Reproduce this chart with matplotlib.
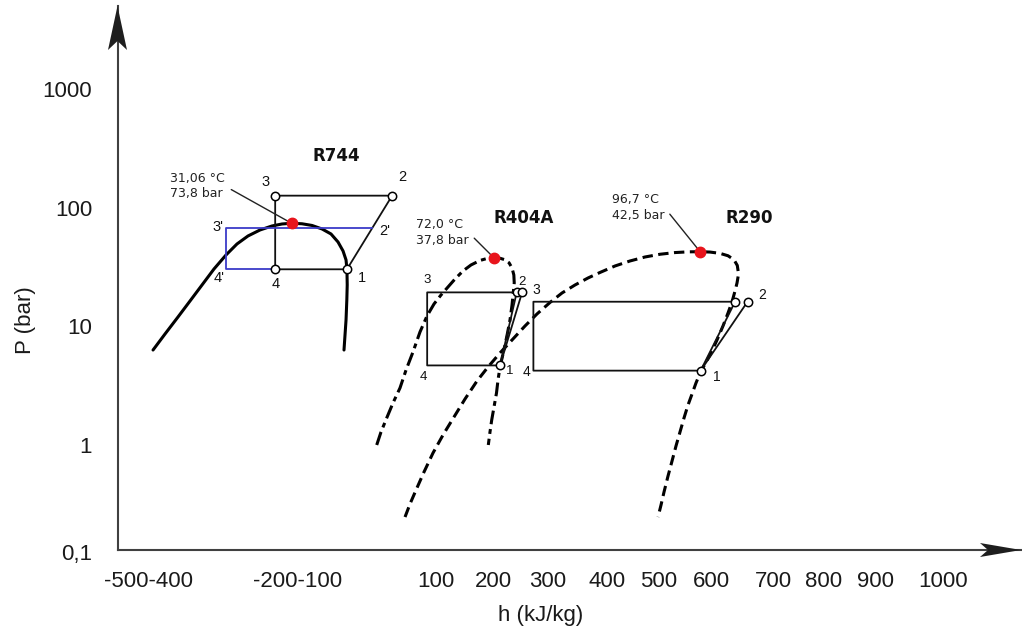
import matplotlib
matplotlib.use("Agg")
import matplotlib.pyplot as plt
from matplotlib.patches import Polygon
from matplotlib.transforms import blended_transform_factory

plt.rcParams['font.family'] = ['Liberation Sans', 'DejaVu Sans']

# ---- saturation domes: enthalpy h (kJ/kg) and pressure P (bar) ----
r744_h = [-398.2, -377.0, -354.0, -332.7, -311.5, -290.3, -269.0, -249.6, -230.1, -208.8, -187.6, -169.9,
          -152.7, -134.5, -116.8, -99.1, -83.2, -70.8, -61.9, -56.6, -55.0, -54.5, -55.2, -56.6, -58.4, -60.2]
r744_p = [6.31, 8.61, 11.98, 16.34, 22.28, 30.39, 39.88, 49.36, 57.65, 64.76, 69.98, 72.74,
          73.8, 73.03, 70.68, 66.03, 59.93, 51.3, 43.1, 36.2, 30.2, 22.3, 16.66, 11.3, 8.45, 6.31]

r404a_h = [-2.3, 5.3, 15.4, 26.5, 38.9, 49.6, 61.9, 74.3, 86.7, 99.1, 111.5, 123.9, 136.3, 150.4, 164.6,
           180.5, 192.9, 205.3, 215.9, 224.8, 231.9, 237.2, 240.4, 241.1, 239.5, 237.2, 233.6, 229.2,
           224.8, 220.4, 215.9, 212.4, 209.7, 205.3, 201.2, 198.2, 195.2]
r404a_p = [1.0, 1.287, 1.689, 2.259, 3.022, 4.283, 6.074, 8.954, 12.21, 15.41, 18.35, 21.44, 25.03, 29.24,
           32.85, 35.84, 37.25, 37.8, 37.4, 36.33, 34.27, 30.98, 27.05, 23.16, 19.45, 15.11, 11.3, 8.78,
           6.96, 5.62, 4.54, 3.53, 2.74, 2.09, 1.62, 1.287, 1.0]

r290_h = [47.8, 56.6, 67.3, 81.4, 97.3, 115.0, 134.5, 154.0, 175.2, 194.7, 215.9, 237.2, 260.2, 281.4,
          304.4, 325.7, 348.7, 371.7, 392.9, 419.5, 446.0, 472.6, 499.1, 525.7, 548.7, 569.9, 587.6,
          605.3, 619.5, 630.1, 635.9, 638.1, 635.4, 631.9, 626.5, 619.5, 610.6, 600.0, 589.4, 578.8,
          570.8, 562.8, 555.8, 548.7, 541.6, 534.5, 527.4, 520.4, 513.3, 506.2, 500.9, 495.6]
r290_p = [0.2473, 0.3184, 0.4177, 0.5922, 0.8561, 1.214, 1.722, 2.441, 3.461, 4.541, 5.959, 7.665, 10.06,
          12.70, 15.87, 19.08, 22.28, 25.52, 28.40, 32.21, 35.49, 38.35, 40.43, 41.78, 42.36, 42.5, 42.19,
          41.14, 39.27, 36.33, 32.53, 27.58, 23.16, 19.84, 16.02, 12.94, 10.06, 7.665, 5.959, 4.813,
          4.121, 3.330, 2.690, 2.173, 1.689, 1.287, 0.9808, 0.7330, 0.5481, 0.4018, 0.3122, 0.2473]

# ---- critical points ----
crit_names = ['R744', 'R404A', 'R290']
crit_h = [-153, 205, 570]
crit_p = [73.8, 37.8, 42.5]
crit_t = ['31,06', '72,0', '96,7']

# ---- refrigeration cycles (state points) ----
r744_cycle_h = {'1': -55, '2': 25, '3': -182, '4': -182}
r744_cycle_p = {'1': 30.2, '2': 126, '3': 126, '4': 30.2}
r744_trans_h = {"4'": -269, "3'": -269, "2'": -10.5}
r744_trans_p = {"4'": 30.2, "3'": 66.9, "2'": 66.9}

r404a_cycle_h = {'1': 216, '2a': 245.5, '2b': 255, '3': 87, '4': 87}
r404a_cycle_p = {'1': 4.68, '2a': 19.3, '2b': 19.3, '3': 19.3, '4': 4.68}

r290_cycle_h = {'1': 571, '2a': 632, '2b': 654, '3': 275, '4': 275}
r290_cycle_p = {'1': 4.23, '2a': 16.1, '2b': 16.1, '3': 16.1, '4': 4.23}

# ---- axis ticks ----
xtick_pos = [-407, -142, 103, 205, 300, 405, 497, 591, 699, 789, 881, 1000]
xtick_labels = ['-500-400', '-200-100', '100', '200', '300', '400', '500', '600', '700', '800', '900', '1000']
ytick_pos = [1, 10, 100, 1000]
ytick_labels = ['1', '10', '100', '1000']

W, H = 1022, 628
fig = plt.figure(figsize=(W / 100, H / 100), dpi=100)
ax = fig.add_axes([118 / W, 78 / H, 904 / W, 544 / H])
ax.set_yscale('log')
ax.set_xlim(-460.2, 1139.8)
ax.set_ylim(10 ** -0.8846, 10 ** 3.698)

for s in ['top', 'right']:
    ax.spines[s].set_visible(False)
for s in ['left', 'bottom']:
    ax.spines[s].set_color('#404040')
    ax.spines[s].set_linewidth(1.5)

ax.set_xticks(xtick_pos)
ax.set_xticklabels(xtick_labels)
ax.set_yticks(ytick_pos)
ax.set_yticklabels(ytick_labels)
ax.minorticks_off()
ax.tick_params(axis='x', length=0, pad=15, labelsize=16, labelcolor='#1a1a1a')
ax.tick_params(axis='y', length=0, pad=18.7, labelsize=16, labelcolor='#1a1a1a')

trans = blended_transform_factory(ax.transAxes, ax.transData)
ax.annotate('0,1', xy=(0, 0.1184), xycoords=trans, xytext=(-18.7, 0), textcoords='offset points',
            ha='right', va='center', fontsize=16, color='#1a1a1a', annotation_clip=False)

fig.text(25 / W, 1 - 320 / H, 'P (bar)', rotation=90, ha='center', va='center', fontsize=16, color='#1a1a1a')
fig.text(541 / W, 1 - 615 / H, 'h (kJ/kg)', ha='center', va='center', fontsize=16, color='#1a1a1a')


def px(x, y):
    return (x / W, 1 - y / H)


# axis arrowheads
fig.patches.append(Polygon([px(117.5, 6), px(108, 50), px(117.5, 41), px(127, 50)], closed=True,
                           transform=fig.transFigure, facecolor='#1e1e1e', edgecolor='none', zorder=5))
fig.patches.append(Polygon([px(1021, 550), px(980, 543), px(988, 550), px(980, 557)], closed=True,
                           transform=fig.transFigure, facecolor='#1e1e1e', edgecolor='none', zorder=5))

# saturation domes
ax.plot(r744_h, r744_p, color='black', lw=2.2, solid_capstyle='round', solid_joinstyle='round', zorder=2)
ax.plot(r404a_h, r404a_p, color='black', lw=2.2, dashes=(4.5, 1.6, 1.6, 1.6), zorder=2)
ax.plot(r290_h, r290_p, color='black', lw=2.2, dashes=(3.4, 1.8), zorder=2)

cyc_kw = dict(color='#111111', lw=1.3, zorder=3)
mk_kw = dict(marker='o', ms=6, mfc='white', mec='black', mew=1.1, ls='none', zorder=6)

# R744 transcritical cycle
hc, pc = r744_cycle_h, r744_cycle_p
order = ['1', '2', '3', '4', '1']
ax.plot([hc[k] for k in order], [pc[k] for k in order], **cyc_kw)
ht, pt = r744_trans_h, r744_trans_p
ax.plot([hc['4'], ht["4'"], ht["3'"], ht["2'"]], [pc['4'], pt["4'"], pt["3'"], pt["2'"]],
        color='#3c3cc8', lw=1.3, zorder=3)
ax.plot([hc[k] for k in ['1', '2', '3', '4']], [pc[k] for k in ['1', '2', '3', '4']], **mk_kw)

# R404A cycle
hc, pc = r404a_cycle_h, r404a_cycle_p
ax.plot([hc[k] for k in ['2a', '3', '4', '1', '2a']], [pc[k] for k in ['2a', '3', '4', '1', '2a']], **cyc_kw)
ax.plot([hc['1'], hc['2b']], [pc['1'], pc['2b']], **cyc_kw)
ax.plot([hc[k] for k in ['1', '2a', '2b']], [pc[k] for k in ['1', '2a', '2b']], **mk_kw)

# R290 cycle
hc, pc = r290_cycle_h, r290_cycle_p
ax.plot([hc[k] for k in ['2a', '3', '4', '1', '2a']], [pc[k] for k in ['2a', '3', '4', '1', '2a']], **cyc_kw)
ax.plot([hc['1'], hc['2b']], [pc['1'], pc['2b']], **cyc_kw)
ax.plot([hc[k] for k in ['1', '2a', '2b']], [pc[k] for k in ['1', '2a', '2b']], **mk_kw)


def label(h, p, text, dx, dy, size=10):
    ax.annotate(text, xy=(h, p), xytext=(dx, dy), textcoords='offset points',
                ha='center', va='center', fontsize=size, color='#111111', zorder=7)


# state point labels
label(r744_cycle_h['3'], r744_cycle_p['3'], '3', -7, 9.6, 10.5)
label(r744_cycle_h['2'], r744_cycle_p['2'], '2', 7, 13.5, 10.5)
label(r744_cycle_h['4'], r744_cycle_p['4'], '4', 0.7, -10.6, 10.5)
label(r744_cycle_h['1'], r744_cycle_p['1'], '1', 10.8, -6.5, 10.5)
label(r744_trans_h["3'"], r744_trans_p["3'"], "3'", -5.5, 1.2, 10.5)
label(r744_trans_h["2'"], r744_trans_p["2'"], "2'", 8.8, -1.7, 10.5)
label(r744_trans_h["4'"], r744_trans_p["4'"], "4'", -5.0, -6.0, 10.5)

label(r404a_cycle_h['3'], r404a_cycle_p['3'], '3', 0, 9, 9.5)
label(r404a_cycle_h['4'], r404a_cycle_p['4'], '4', -2.9, -8, 9.5)
label(r404a_cycle_h['2b'], r404a_cycle_p['2b'], '2', -0.4, 7.8, 9.5)
label(r404a_cycle_h['1'], r404a_cycle_p['1'], '1', 6.7, -4.3, 9.5)

label(r290_cycle_h['3'], r290_cycle_p['3'], '3', 2.4, 8.4, 10)
label(r290_cycle_h['4'], r290_cycle_p['4'], '4', -4.8, -0.7, 10)
label(r290_cycle_h['2b'], r290_cycle_p['2b'], '2', 10.4, 4.8, 10)
label(r290_cycle_h['1'], r290_cycle_p['1'], '1', 11.5, -4.3, 10)

# refrigerant names
name_pos_h = [-73, 258, 657]
name_pos_p = [272, 81.7, 81.7]
for n, h, p in zip(crit_names, name_pos_h, name_pos_p):
    ax.text(h, p, n, ha='center', va='center', fontsize=12, fontweight='bold',
            family='DejaVu Sans', color='#111111', zorder=7)

# critical points with annotations
note_h = [-368, 67, 414]
note_p = [152, 61.7, 100.2]
for h, p, t, nh, npp in zip(crit_h, crit_p, crit_t, note_h, note_p):
    txt = f"{t} °C\n{p:.1f} bar".replace('.', ',')
    ax.annotate(txt, xy=(h, p), xytext=(nh, npp), ha='left', va='center', fontsize=9,
                family='DejaVu Sans', color='#222222', linespacing=1.25,
                arrowprops=dict(arrowstyle='-', lw=1.0, color='#222222', relpos=(1, 0.5),
                                shrinkA=3, shrinkB=3.5), zorder=7)
    ax.plot([h], [p], marker='o', ms=7.5, color='#e8141c', ls='none', zorder=8)

fig.savefig('out.png', dpi=100)
